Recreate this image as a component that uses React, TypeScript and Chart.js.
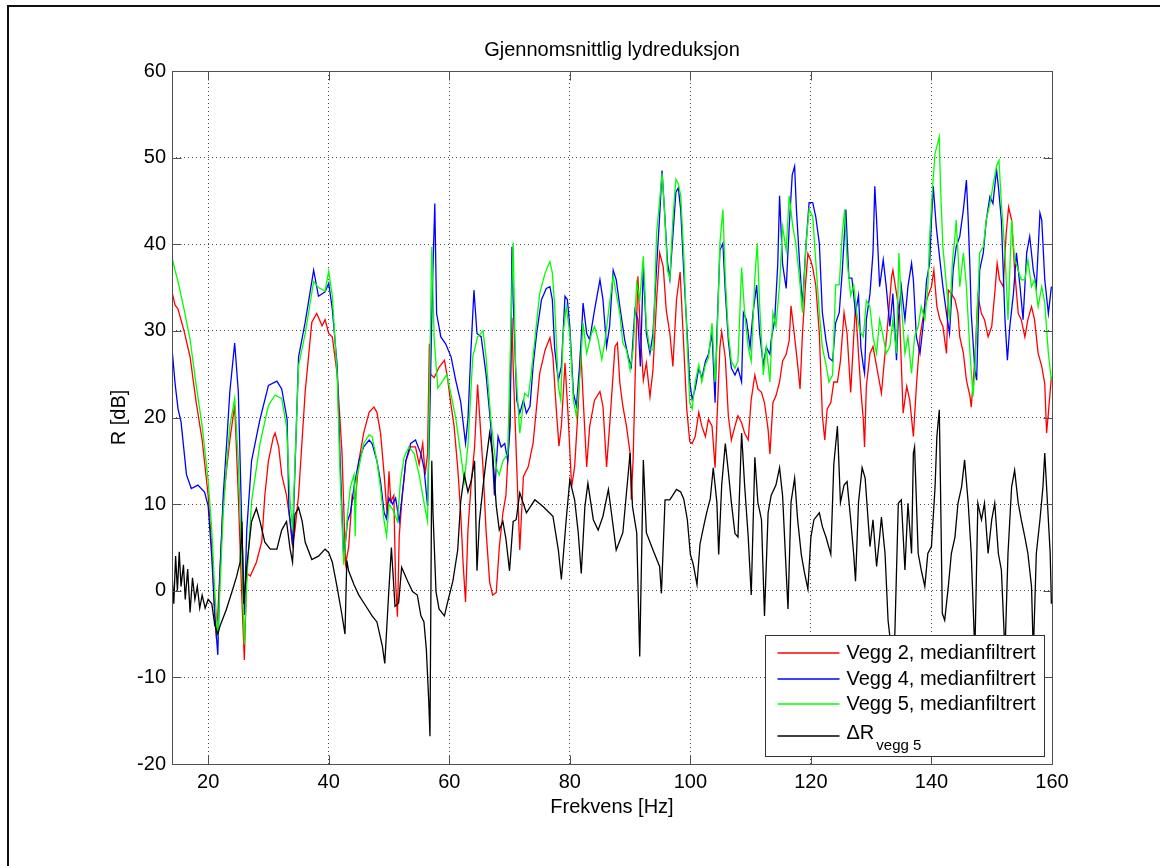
import React, { useEffect, useRef } from "react";
import { Chart, registerables } from "chart.js";

Chart.register(...registerables);

const titleText = "Gjennomsnittlig lydreduksjon";
const xLabel = "Frekvens [Hz]";
const yLabel = "R [dB]";
const xTicks = [20, 40, 60, 80, 100, 120, 140, 160];
const yTicks = [-20, -10, 0, 10, 20, 30, 40, 50, 60];
const seriesLabels = ["Vegg 2, medianfiltrert", "Vegg 4, medianfiltrert", "Vegg 5, medianfiltrert", "ΔR"];
const deltaSub = "vegg 5";

// Vegg 2 (red)
const vegg2Freq = [14, 14.5, 15, 16, 17, 18, 19, 20, 20.6, 21.1, 21.4, 22, 22.5, 23.1, 23.6, 24.4, 25, 25.6, 26, 26.4, 27, 28, 28.9, 29.4, 30, 30.8, 31.1, 31.7, 32.2, 33, 33.6, 34, 34.4, 35, 36.1, 37.2, 38, 38.9, 39.4, 40, 40.6, 41.4, 42.2, 42.8, 43.3, 43.9, 44.4, 45, 45.8, 46.7, 47.5, 48, 48.6, 49.2, 49.7, 50, 50.3, 50.8, 51.1, 51.4, 51.7, 52.2, 52.8, 53.6, 54.4, 55, 55.6, 56, 56.4, 56.7, 56.9, 57.5, 58.3, 59.2, 59.7, 60.3, 60.8, 61.4, 61.9, 62.3, 62.7, 63.1, 63.6, 64.2, 64.7, 65, 65.6, 66.1, 66.7, 67.2, 67.8, 68.3, 68.9, 69.4, 70, 70.4, 70.6, 71.2, 71.7, 72.3, 73.1, 73.9, 74.5, 75, 75.9, 76.7, 77.2, 77.8, 78.2, 78.6, 79.2, 79.7, 80.3, 80.8, 81.4, 81.8, 82.2, 82.8, 83.3, 84.1, 85, 85.5, 86.1, 86.6, 87.5, 87.9, 88.3, 88.8, 89.4, 90, 90.2, 90.5, 91, 91.3, 91.7, 92.2, 92.7, 93.3, 93.8, 94.4, 94.9, 95.5, 96, 96.6, 97.1, 97.7, 98.3, 98.8, 99.4, 99.9, 100.3, 100.8, 101.4, 101.9, 102.5, 103, 103.6, 104.1, 104.9, 105.2, 105.8, 106.3, 106.8, 107.4, 107.9, 108.5, 109, 109.6, 110.1, 110.7, 111.2, 111.8, 112.3, 112.9, 113.2, 113.7, 114.2, 114.8, 115.3, 115.9, 116.4, 116.7, 117.3, 117.8, 118.2, 118.6, 119.1, 119.5, 120, 120.3, 120.8, 121.4, 121.9, 122.3, 122.7, 123.3, 123.8, 124.4, 124.9, 125.5, 126, 126.6, 127.1, 127.4, 127.9, 128.3, 128.7, 128.9, 129.2, 129.8, 130.3, 130.9, 131.7, 132.3, 132.8, 133.4, 133.6, 134.2, 134.7, 135.3, 135.9, 136.4, 137, 137.5, 138.1, 138.9, 139.4, 140, 140.4, 140.9, 141.4, 141.9, 142.5, 142.8, 143.3, 143.9, 144.4, 144.7, 145.3, 145.8, 146.4, 146.6, 147.2, 147.7, 148.3, 148.8, 149.4, 150, 150.5, 150.9, 151.3, 151.9, 152.4, 152.8, 153.3, 153.8, 154.4, 154.9, 155.5, 156, 156.6, 157.1, 157.7, 158.3, 158.8, 159.1, 159.4, 159.9];
const vegg2R = [34.5, 33, 32.5, 30, 27, 21.8, 17.4, 11, 5, -2.9, -5.6, 3, 10.3, 14.3, 17.4, 21.4, 11, -1, -8, 2, 1.7, 3.3, 5.7, 11, 15, 17.7, 18.2, 16.6, 13.4, 11, 8, 5.3, 7, 11, 23, 31, 32, 30.6, 31.3, 29.7, 29.3, 25, 16, 3.1, 5, 11, 10.3, 15, 18.2, 20.6, 21.2, 20.6, 18.2, 13.4, 8.7, 13.8, 10.3, 11, 1, -3, 6.3, 11, 15, 16.6, 16.6, 14.6, 17, 13.4, 15.8, 28.5, 25, 24.6, 25.8, 26.6, 24.6, 21.4, 19, 14.2, 9, 3.1, -1.3, 7, 12, 16.6, 23.8, 20.6, 14.2, 7, 1, -0.5, -0.2, 5, 9, 11, 19, 31.5, 25.9, 14.3, 4.7, 13.2, 14.3, 17, 21.3, 25.1, 27.8, 29.2, 27, 20.5, 16.7, 19, 26.3, 20.5, 12, 14.3, 21.3, 28.2, 22.4, 14.3, 19, 22, 23, 21.3, 14.3, 19, 28.2, 28.6, 24, 21.3, 19, 15.9, 10.5, 15.1, 29, 36.3, 29.7, 24.3, 26.3, 22.4, 25.5, 33.6, 39, 37.4, 32.4, 29.7, 25.9, 33.6, 36.8, 29.7, 21, 17.2, 17, 17.8, 20.6, 19, 17.8, 19.8, 19, 14.2, 28.1, 29.9, 26.9, 20.2, 17.4, 19, 20.2, 19.4, 18.2, 17.4, 22.1, 24.9, 23.3, 22.9, 21.7, 18.6, 15.8, 21.7, 22.5, 24.1, 26.5, 27.3, 28.9, 32.9, 29.3, 26.1, 23.3, 29.7, 35.3, 38.9, 38.1, 37.3, 35.3, 29.7, 20.2, 17.4, 21, 21.7, 24.1, 24.1, 26.5, 32.1, 29.7, 22.9, 29.3, 32.9, 27.3, 23, 19.7, 16.6, 23.6, 27.4, 28.2, 25.9, 22.8, 27.4, 31.3, 36.3, 37, 34.3, 32, 20.5, 23.6, 22, 17.8, 23.6, 29.3, 32.8, 34, 35.1, 37, 32.8, 31.3, 30.5, 27.4, 34.7, 34.3, 33.6, 32, 29.3, 27.4, 24.3, 22.4, 21.2, 26.6, 34, 32, 31.3, 29.3, 30.5, 34.3, 37.8, 35.9, 35.1, 41.3, 44.3, 42.8, 37, 32, 31.3, 29.3, 31.3, 32.8, 31.3, 27.4, 25.9, 23.9, 18.2, 20.5, 24.7];

// Vegg 4 (blue)
const vegg4Freq = [14, 14.5, 15, 15.5, 16.4, 17.2, 18.3, 19.4, 20, 20.6, 21.1, 21.6, 21.9, 22.5, 23.1, 23.6, 24.4, 25, 25.6, 26, 26.4, 27.2, 28.6, 30, 31.4, 32.2, 33.1, 33.4, 34, 35, 36.1, 37.5, 38.3, 39.4, 40, 40.6, 41.4, 41.9, 42.5, 43.1, 43.6, 44.2, 45, 45.8, 46.7, 47.2, 48, 48.6, 49.2, 49.6, 50, 50.6, 51.1, 51.7, 52.2, 52.8, 53.6, 54.4, 55.3, 55.8, 56.4, 56.7, 57.2, 57.6, 57.9, 58.6, 59.4, 60.3, 61.1, 61.9, 62.7, 63.1, 63.6, 64.1, 64.6, 65.3, 66.1, 66.9, 67.5, 68.1, 68.6, 69.2, 69.7, 70.1, 70.4, 70.6, 71.2, 71.7, 72.3, 72.8, 73.4, 73.9, 74.5, 75.3, 76.1, 76.7, 77.1, 77.5, 78.1, 78.6, 79.2, 79.6, 80, 80.6, 81.1, 81.7, 82.2, 82.8, 83.3, 84.1, 85, 85.5, 86.1, 86.6, 87.2, 87.7, 88.3, 89.1, 89.7, 90.2, 90.8, 91.3, 91.7, 92.2, 92.7, 93.3, 93.8, 94.4, 94.9, 95.3, 95.7, 96.2, 96.6, 97.1, 97.6, 98, 98.4, 98.9, 99.5, 99.9, 100.3, 100.8, 101.4, 101.9, 102.5, 103, 103.6, 104.1, 104.4, 104.9, 105.4, 105.8, 106.3, 106.8, 107.4, 107.9, 108.5, 108.8, 109.3, 109.9, 110.4, 111, 111.5, 112.1, 112.6, 113.2, 113.4, 114, 114.5, 114.8, 115.3, 115.9, 116.4, 116.9, 117.3, 117.6, 118.1, 118.6, 119.2, 119.7, 120.3, 120.8, 121.4, 121.9, 122.5, 123, 123.6, 124.1, 124.7, 125.2, 125.8, 126.3, 126.8, 127.4, 127.9, 128.3, 128.7, 128.9, 129.2, 129.8, 130.3, 130.6, 130.9, 131.2, 131.4, 132, 132.5, 133.1, 133.6, 134.2, 134.5, 135, 135.6, 136.1, 136.7, 137, 137.5, 138.1, 138.6, 139.2, 139.7, 140, 140.3, 140.8, 141.4, 141.9, 142.5, 143, 143.6, 144.1, 144.7, 145.3, 145.8, 146.1, 146.4, 146.6, 147.2, 147.5, 148, 148.6, 149.1, 149.7, 150.2, 150.8, 151.1, 151.6, 152.2, 152.6, 153, 153.6, 154.1, 154.7, 155.2, 155.8, 156.3, 156.9, 157.4, 158, 158.3, 158.8, 159.4, 159.9];
const vegg4R = [28, 24, 21, 19.5, 13.4, 11.8, 12.2, 11.4, 9.8, 3.9, -2.8, -7.4, 1, 11, 17.4, 23, 28.6, 23, 7, -2.8, 7, 15, 19.8, 23.7, 24.2, 23.3, 19.8, 9.3, 5.3, 27, 31, 37, 34, 34.5, 35.5, 32.5, 26, 15, 3.5, 8, 9, 12, 15, 16.6, 17.4, 17, 15, 12.6, 9, 8.3, 10.7, 10, 10.7, 8, 11, 15, 17, 17.4, 15.8, 14.2, 9.8, 18, 34.9, 44.7, 32, 29.3, 28.5, 27, 24.2, 21.8, 17, 19.8, 27.8, 34.7, 29.7, 29.3, 25, 19, 11, 17.8, 16.6, 17, 15, 19, 39.7, 33.6, 22, 20.5, 22, 20.5, 21.3, 25.9, 29.7, 33.6, 34.9, 35.1, 33.6, 27.8, 24.3, 25.9, 34, 33.6, 30.5, 22.8, 21.3, 26.7, 33.2, 29.7, 29, 32.4, 35.9, 33.6, 28.2, 30.5, 37, 35.9, 32.8, 29, 27, 25.9, 32.4, 31.3, 25.9, 37.4, 29.7, 27.4, 29.7, 37.4, 43.2, 48.5, 44, 38, 36, 41, 46, 46.5, 44, 36.9, 29.3, 24.1, 22.1, 23.3, 25.7, 24.5, 26.5, 27.3, 29.7, 21.7, 29.7, 39.3, 40.1, 34.5, 28.9, 25.7, 24.9, 25.7, 24.1, 32.1, 31.3, 28.1, 32.1, 35.3, 29.7, 26.1, 28.1, 27.3, 28.9, 31.3, 37.7, 45.6, 37.7, 34.9, 42, 48, 49, 44, 38.1, 32.9, 40.1, 44.8, 44.8, 43.2, 40.1, 32.1, 28.9, 26.9, 26.5, 30.9, 32.1, 36.9, 44, 36.1, 36.1, 32.1, 34.1, 28, 25.9, 25.1, 31.3, 34.3, 39, 46.7, 42.8, 38.2, 35.1, 38.2, 35.1, 30.5, 34.3, 26.6, 31.3, 35.1, 31.3, 35.1, 37.8, 35.9, 29.3, 27.4, 30.5, 35.9, 37.8, 42.8, 46.7, 42, 38.2, 35.1, 32, 29.7, 37, 39.7, 40.9, 44, 47.4, 42.8, 37, 32, 25.5, 24.3, 37, 39, 42.8, 45.5, 44.7, 48.6, 46.7, 42.8, 31.3, 26.6, 30.5, 34.3, 39, 35.1, 31.3, 39, 40.9, 37, 35.1, 43.6, 42.8, 35.9, 32, 35.1];

// Vegg 5 (green)
const vegg5Freq = [14, 14.5, 15, 16, 17, 18, 19, 20, 20.6, 21.1, 21.6, 22, 22.5, 23.1, 23.6, 24.4, 25, 25.6, 26, 26.4, 27.2, 28.6, 30, 31.1, 32.2, 33, 33.6, 34, 35, 36.1, 37.5, 38.3, 39.4, 40, 40.6, 41.4, 41.9, 42.5, 43.1, 43.6, 44.2, 44.4, 44.6, 45, 45.8, 46.7, 47.2, 48, 48.6, 49.2, 49.6, 50, 50.6, 51.4, 51.9, 52.5, 53.3, 54.2, 55, 55.8, 56.4, 56.7, 57.1, 57.5, 58.1, 58.9, 59.6, 60.3, 61.1, 61.9, 62.5, 63.1, 63.9, 64.7, 65.6, 66.1, 66.9, 67.8, 68.3, 68.9, 69.7, 70.1, 70.6, 71, 71.7, 72.5, 73.1, 73.6, 74.2, 75, 75.9, 76.7, 77.1, 77.5, 78.1, 78.5, 78.9, 79.4, 80, 80.6, 81.1, 81.7, 82.2, 82.8, 83.6, 84.1, 84.7, 85.3, 85.8, 86.6, 87.2, 87.7, 88.3, 88.8, 89.4, 90, 90.5, 91.1, 91.6, 92.2, 92.7, 93.3, 93.8, 94.4, 94.9, 95.3, 95.7, 96.2, 96.6, 97.1, 97.6, 98, 98.4, 98.9, 99.5, 99.9, 100.3, 100.8, 101.4, 101.9, 102.5, 103, 103.6, 104.1, 104.4, 104.9, 105.4, 105.8, 106.3, 106.8, 107.4, 107.9, 108.5, 109, 109.6, 110.1, 110.7, 111.1, 111.5, 112.1, 112.6, 113.2, 113.7, 114.2, 114.8, 115.3, 115.9, 116.4, 117, 117.5, 118.1, 118.6, 119.2, 119.7, 120.3, 120.8, 121.4, 121.9, 122.5, 123, 123.6, 124.1, 124.7, 125.2, 125.6, 126, 126.6, 127.1, 127.6, 128.1, 128.7, 129.2, 129.8, 130.3, 130.9, 131.4, 132, 132.5, 133.1, 133.6, 134.2, 134.6, 135, 135.6, 136.1, 136.7, 137.2, 137.8, 138.3, 138.9, 139.4, 139.7, 140.2, 140.6, 140.9, 141.3, 141.5, 141.9, 142.5, 143, 143.5, 143.9, 144.1, 144.7, 145.3, 145.8, 146.4, 146.9, 147.2, 147.5, 148, 148.6, 149.1, 149.7, 150.2, 150.8, 151.2, 151.6, 152.2, 152.7, 153.3, 153.8, 154.4, 154.9, 155.5, 156, 156.6, 157.1, 157.7, 158.3, 158.8, 159.4, 159.9];
const vegg5R = [38.5, 37, 35.7, 32.5, 29, 23.8, 19, 12.7, 7, -0.1, -5.3, 1, 9, 15, 19, 22.2, 15, 3, -6.2, 1, 10.3, 17, 21.4, 22.6, 22.2, 19, 10.3, 7, 26, 29.7, 35.7, 35, 34.6, 36.9, 34, 25, 13, 3, 8.6, 12, 13.4, 6.3, 13, 14.2, 17, 18, 17.8, 15, 11.8, 8, 6.3, 10, 9.4, 8, 12.6, 15.4, 16.6, 15.8, 13.4, 10.2, 8, 23, 39.7, 29, 23.4, 24.2, 25, 22.6, 19.8, 15.8, 12.6, 16.8, 27, 29.3, 30, 27, 19.8, 14.2, 13.4, 15, 15.8, 27, 40.2, 25.9, 18.2, 22.8, 22.4, 25.1, 29, 34.3, 36.7, 38, 36.7, 32.8, 23.6, 22, 29.7, 32.8, 29.7, 22, 20.1, 25.1, 30.9, 27.4, 29.7, 30.5, 29, 26.7, 28.6, 33.2, 36.3, 34.3, 32, 28.6, 27.8, 25.5, 27.8, 35.5, 33.6, 38.6, 30.5, 27.8, 27.8, 41.3, 45, 48.2, 44, 37, 36, 43, 47.5, 47, 45.6, 38.9, 28.1, 21.7, 21, 24.1, 26.1, 24.1, 26.1, 26.9, 30.9, 24.1, 28.1, 40.1, 44, 36.1, 29.7, 26.5, 25.7, 26.5, 37.3, 32.1, 28.1, 26.5, 36.1, 40.1, 32.9, 24.9, 28.1, 24.1, 32.1, 30.5, 35.3, 42, 39.3, 45.6, 42, 40.1, 36.1, 32.1, 40.1, 44, 43.2, 38.1, 32.1, 28.1, 26.1, 24.1, 24.9, 35.3, 35.3, 41.2, 44, 38.1, 34.1, 35.3, 32.1, 30, 29.3, 33.5, 32.8, 29.3, 27.4, 31.3, 29.3, 27.4, 28.2, 31.3, 27.4, 39, 33.2, 27.4, 29.3, 25.1, 29.3, 30.5, 32.8, 31.3, 35.1, 40.9, 46.7, 50.5, 51.3, 52.4, 46.7, 39.7, 35.1, 31.3, 38.2, 40.9, 42.8, 35.1, 39, 35.1, 27.4, 22.4, 25.5, 30.5, 39, 39.7, 42.8, 44.7, 46.7, 49, 49.7, 44.7, 39, 31.3, 42.8, 38.2, 37, 35.9, 35.9, 38.2, 35.1, 35.9, 32.8, 35.1, 33.2, 27.4, 24.3];

// Delta R, vegg 5 (black)
const deltaFreq = [14, 14.3, 14.6, 14.9, 15.2, 15.5, 15.9, 16.2, 16.6, 17, 17.4, 17.8, 18.2, 18.6, 19, 19.5, 20, 20.6, 21.1, 21.6, 22, 23, 24, 24.7, 25.3, 25.6, 25.9, 26.4, 27.2, 28, 28.6, 29.4, 30.3, 31.4, 32.2, 33, 33.6, 34, 34.4, 35, 35.6, 36.1, 37.2, 38.3, 39.4, 40, 40.6, 41.4, 42.2, 42.7, 43, 43.3, 44.2, 45, 46.1, 47.2, 48, 48.9, 49.3, 49.9, 50.4, 51, 51.6, 52.1, 53.1, 53.9, 54.7, 55.3, 55.8, 56.2, 56.6, 56.8, 57.1, 57.3, 57.8, 58.3, 59.2, 59.7, 60.6, 61.4, 61.9, 62.5, 63.1, 63.6, 64.2, 64.6, 65, 65.6, 66.1, 66.7, 67.2, 67.8, 68.3, 68.9, 69.4, 70, 70.6, 71.1, 71.7, 72.8, 74.2, 75.6, 77.2, 78.1, 78.6, 79.4, 80, 80.8, 81.4, 81.9, 82.5, 83, 83.9, 84.7, 85.5, 86.4, 86.9, 87.7, 88.8, 90, 90.4, 91.1, 91.6, 92.2, 92.7, 93.8, 94.9, 95.2, 95.8, 96.6, 97.7, 98.4, 98.9, 99.5, 100, 100.5, 101.1, 101.6, 102.2, 102.7, 103.3, 103.8, 104.4, 104.7, 105.2, 105.8, 106.3, 106.8, 107.4, 107.9, 108.5, 109, 109.6, 110.1, 110.7, 111.2, 111.8, 112.3, 112.9, 113.4, 114.2, 114.8, 115.3, 115.9, 116.2, 116.7, 117.3, 117.8, 118.4, 118.9, 119.5, 120, 120.5, 121.4, 121.9, 122.5, 123.3, 123.8, 124.4, 124.9, 125.5, 126, 126.6, 127.1, 127.4, 127.9, 128.5, 129, 129.8, 130.3, 130.9, 131.4, 131.7, 132.3, 132.8, 133.4, 133.9, 134.5, 135, 135.6, 136.1, 136.7, 137, 137.2, 137.8, 138.3, 138.9, 139.4, 140, 140.6, 140.9, 141.3, 141.5, 141.8, 142.2, 142.8, 143.3, 143.9, 144.4, 145, 145.5, 146.1, 146.6, 147.2, 147.7, 148.3, 148.8, 149.4, 150, 150.5, 151.1, 151.6, 152.2, 152.7, 153.3, 153.8, 154.4, 154.9, 155.5, 156, 156.6, 156.9, 157.4, 158, 158.5, 158.8, 159.1, 159.7, 159.9];
const deltaR = [2, -1.5, 4, 0, 4.5, 0.5, 3, -1, 2.5, -2.5, 1.5, -1, 0.5, -2, -0.5, -2, -1, -1.5, -4, -5, -4, -2.2, 0, 1.6, 3.3, 8, -1.5, 2.8, 8, 9.5, 8, 5.6, 4.8, 4.8, 7, 8, 4.8, 3.3, 8.8, 9.6, 8, 5.6, 3.6, 4, 4.8, 4.4, 3.3, 0.4, -2.8, -5, 3.5, 2.3, 0.7, -0.5, -1.7, -2.9, -3.6, -6.4, -8.4, -0.9, 5, -1.8, -1.4, 2.7, 1.1, -0.1, -0.5, -2.9, -3.6, -6.8, -12.8, -16.8, 15, 9, -0.1, -2.1, -2.9, -1.4, 1.1, 4.7, 10.3, 13.4, 11.4, 12.6, 15, 2.3, 8, 12, 15, 18.2, 15.8, 9.8, 7, 8, 6, 2.3, 8, 8.2, 11.3, 9, 10.5, 9.7, 8.6, 4.7, 1.3, 8.2, 12.8, 10.5, 6.7, 2, 9.7, 12.4, 8.2, 7, 8.6, 11.7, 9, 4.7, 6.7, 15.9, 9.7, 6.7, -7.6, 15.1, 6.7, 4.7, 2.8, -0.3, 10.5, 10.5, 11.7, 11.4, 10.6, 8.2, 4.2, 3, 0.7, 5.4, 7.4, 9, 10.6, 14.2, 10.2, 4.2, 12.2, 17, 13.8, 10.2, 6.6, 6.2, 18.2, 12.2, 6.2, -0.5, 15.4, 10.2, 8.2, -2.9, 9, 11, 12.2, 14.2, 11, 2.2, -2.1, 10.2, 13, 8.2, 4.2, 2.2, 0.2, 6.2, 8.2, 9, 7.4, 6.2, 4.2, 14.6, 19, 10.2, 12.2, 12.6, 8.2, 4.2, 1.1, 10.2, 14.2, 13, 5.1, 8.2, 2.8, 6.2, 8.5, 4.3, -3.4, -7.2, -5.7, 10.1, 10.5, 2.4, 10.1, 4.3, 15.9, 16.6, 4.3, 2.4, 0.5, 4.3, 5.1, 12, 17.8, 20.9, 12, -2.6, -3.4, 0.5, 4.3, 6.2, 10.1, 12, 15.1, 10.1, 4.3, -7.2, 10.1, 8.2, 10.1, 4.3, 8.2, 10.1, 4.3, 2.4, -7.2, 4.3, 12, 13.9, 10.1, 8.2, 6.2, 4.3, 0.5, -7.2, 4.3, 8.2, 12, 15.9, 12, 4.3, -1.5];

const FONT = "'Liberation Sans', Arial, Helvetica, sans-serif";
const LINE_COLORS = ["#ff0000", "#0000ff", "#00ff00", "#000000"];

const toPoints = (fs: number[], rs: number[]) => fs.map((f, i) => ({ x: f, y: rs[i] }));

const matlabFrame = {
  id: "matlabFrame",
  afterDraw(chart: any) {
    const { ctx, chartArea } = chart;
    const { left, right, top, bottom } = chartArea;
    const xs = chart.scales.x;
    const ys = chart.scales.y;
    ctx.save();
    ctx.strokeStyle = "#505050";
    ctx.lineWidth = 1;
    const L = Math.round(left) + 0.5;
    const R = Math.round(right) + 0.5;
    const T = Math.round(top) + 0.5;
    const B = Math.round(bottom) + 0.5;
    ctx.strokeRect(L, T, R - L, B - T);
    ctx.beginPath();
    const tl = 9;
    xTicks.forEach((v) => {
      const px = Math.round(xs.getPixelForValue(v)) + 0.5;
      ctx.moveTo(px, B);
      ctx.lineTo(px, B - tl);
      ctx.moveTo(px, T);
      ctx.lineTo(px, T + tl);
    });
    yTicks.forEach((v) => {
      const py = Math.round(ys.getPixelForValue(v)) + 0.5;
      ctx.moveTo(L, py);
      ctx.lineTo(L + tl, py);
      ctx.moveTo(R, py);
      ctx.lineTo(R - tl, py);
    });
    ctx.stroke();

    // legend box (lower right, inside axes)
    const bw = 279;
    const bh = 121;
    const bx = Math.round(right) - 8 - bw + 0.5;
    const by = Math.round(bottom) - 8 - bh + 0.5;
    ctx.fillStyle = "#ffffff";
    ctx.fillRect(bx, by, bw, bh);
    ctx.strokeStyle = "#333333";
    ctx.lineWidth = 1;
    ctx.strokeRect(bx, by, bw, bh);
    const rowY = [17, 43, 68, 100];
    ctx.textBaseline = "middle";
    ctx.textAlign = "left";
    for (let i = 0; i < seriesLabels.length; i++) {
      const ly = Math.round(by + rowY[i]);
      ctx.beginPath();
      ctx.strokeStyle = LINE_COLORS[i];
      ctx.lineWidth = 1.5;
      ctx.moveTo(bx + 12, ly);
      ctx.lineTo(bx + 74, ly);
      ctx.stroke();
      ctx.fillStyle = "#000";
      ctx.font = `20px ${FONT}`;
      if (i < 3) {
        ctx.fillText(seriesLabels[i], bx + 81, ly);
      } else {
        ctx.fillText(seriesLabels[i], bx + 81, ly - 3);
        const w = ctx.measureText(seriesLabels[i]).width;
        ctx.font = `15px ${FONT}`;
        ctx.fillText(deltaSub, bx + 81 + w + 2, ly + 10);
      }
    }
    ctx.restore();
  },
};

export default function App() {
  const canvasRef = useRef<HTMLCanvasElement | null>(null);

  useEffect(() => {
    const canvas = canvasRef.current;
    if (!canvas) return;
    const tickFont = { family: FONT, size: 20, weight: "normal" as const, lineHeight: 1.2 };
    const lineW = 1.3;
    const chart = new Chart(canvas, {
      type: "line",
      data: {
        datasets: [
          { label: seriesLabels[0], data: toPoints(vegg2Freq, vegg2R), borderColor: LINE_COLORS[0], borderWidth: lineW, pointRadius: 0, tension: 0, order: 4 },
          { label: seriesLabels[1], data: toPoints(vegg4Freq, vegg4R), borderColor: LINE_COLORS[1], borderWidth: lineW, pointRadius: 0, tension: 0, order: 3 },
          { label: seriesLabels[2], data: toPoints(vegg5Freq, vegg5R), borderColor: LINE_COLORS[2], borderWidth: lineW, pointRadius: 0, tension: 0, order: 2 },
          { label: seriesLabels[3] + " " + deltaSub, data: toPoints(deltaFreq, deltaR), borderColor: LINE_COLORS[3], borderWidth: lineW, pointRadius: 0, tension: 0, order: 1 },
        ],
      },
      options: {
        animation: false,
        responsive: false,
        maintainAspectRatio: false,
        events: [],
        layout: { padding: { left: 0, right: 120, top: 0, bottom: 0 } },
        plugins: {
          legend: { display: false },
          tooltip: { enabled: false },
          title: {
            display: true,
            fullSize: false,
            text: titleText,
            color: "#000",
            font: { family: FONT, size: 20, weight: "normal", lineHeight: 1.2 },
            padding: { top: 38, bottom: 9 },
          },
        },
        scales: {
          x: {
            type: "linear",
            min: 14,
            max: 160,
            afterBuildTicks: (s: any) => {
              s.ticks = xTicks.map((v) => ({ value: v }));
            },
            afterFit: (s: any) => {
              s.height = 102;
            },
            grid: { color: "rgba(0,0,0,0.7)", lineWidth: 1, drawTicks: false },
            border: { display: false, dash: [1, 3] },
            ticks: { color: "#000", font: tickFont, padding: 6, maxRotation: 0, autoSkip: false },
            title: {
              display: true,
              text: xLabel,
              color: "#000",
              font: tickFont,
              padding: { top: 0, bottom: 47 },
            },
          },
          y: {
            type: "linear",
            min: -20,
            max: 60,
            afterBuildTicks: (s: any) => {
              s.ticks = yTicks.map((v) => ({ value: v }));
            },
            afterFit: (s: any) => {
              s.width = 172;
            },
            grid: { color: "rgba(0,0,0,0.7)", lineWidth: 1, drawTicks: false },
            border: { display: false, dash: [1, 3] },
            ticks: { color: "#000", font: tickFont, padding: 6, autoSkip: false },
            title: {
              display: true,
              text: yLabel,
              color: "#000",
              font: tickFont,
              padding: { top: 107, bottom: 0 },
            },
          },
        },
      },
      plugins: [matlabFrame],
    });
    return () => chart.destroy();
  }, []);

  return (
    <div style={{ position: "fixed", left: 0, top: 0, width: 1172, height: 866, background: "#fff" }}>
      <canvas ref={canvasRef} width={1172} height={866} style={{ display: "block", width: 1172, height: 866 }} />
      <div
        style={{
          position: "absolute",
          left: 7,
          top: 5,
          width: 1153,
          height: 870,
          borderTop: "2px solid #111",
          borderLeft: "2px solid #111",
          pointerEvents: "none",
          boxSizing: "border-box",
        }}
      />
    </div>
  );
}
